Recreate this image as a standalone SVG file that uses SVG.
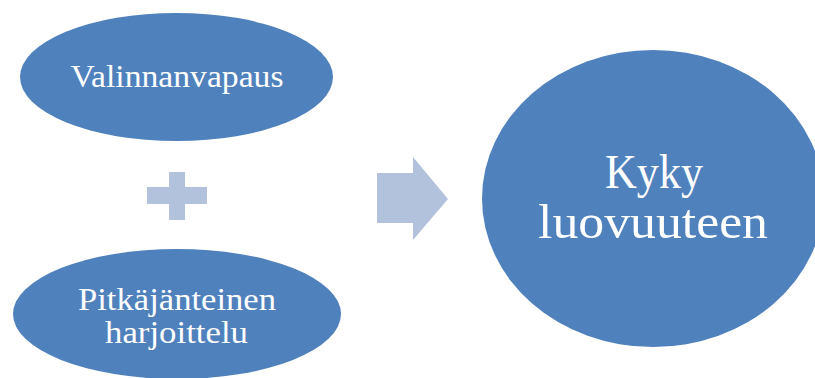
<svg xmlns="http://www.w3.org/2000/svg" width="815" height="378" viewBox="0 0 815 378">
<style>
.node{fill:#4F81BD}
.op{fill:#B3C2DC}
.t{fill:#FFFFFF;font-family:"Liberation Serif","DejaVu Serif",serif;text-anchor:middle}
.s{font-size:31px}
.l{font-size:48px}
</style>
<rect width="815" height="378" fill="#FFFFFF"/>
<g id="valinnanvapaus">
<ellipse class="node" cx="176.5" cy="77" rx="156.5" ry="64"/>
<text class="t s" x="177" y="87" textLength="213" lengthAdjust="spacingAndGlyphs">Valinnanvapaus</text>
</g>
<g id="plus">
<path class="op" d="M169,172H185V187H207V204H185V220H169V204H147V187H169Z"/>
</g>
<g id="harjoittelu">
<ellipse class="node" cx="177" cy="314" rx="164" ry="65"/>
<text class="t s" x="177" y="310" textLength="198" lengthAdjust="spacingAndGlyphs">Pitkäjänteinen</text>
<text class="t s" x="176.5" y="343" textLength="143" lengthAdjust="spacingAndGlyphs">harjoittelu</text>
</g>
<g id="connectors">
<path class="op" d="M377,173H413V157L448,199L413,240V223H377Z"/>
</g>
<g id="kyky">
<ellipse class="node" cx="653" cy="198.5" rx="171" ry="148.5"/>
<text class="t l" x="654" y="188" textLength="98" lengthAdjust="spacingAndGlyphs">Kyky</text>
<text class="t l" x="653" y="238" textLength="230" lengthAdjust="spacingAndGlyphs">luovuuteen</text>
</g>
</svg>
